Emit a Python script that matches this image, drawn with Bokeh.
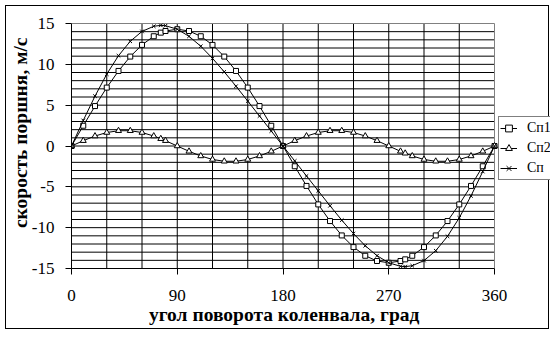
from bokeh.plotting import figure
from bokeh.models import FixedTicker, Legend, LegendItem
from bokeh.embed import file_html
from bokeh.resources import INLINE

angles = [0, 10, 20, 30, 40, 50, 60, 70, 76, 80, 90, 100, 110, 120, 130, 140, 150, 160, 170, 180,
          190, 200, 210, 220, 230, 240, 250, 260, 270, 280, 284, 290, 300, 310, 320, 330, 340, 350, 360]
sp1 = [0, 2.48, 4.89, 7.15, 9.19, 10.95, 12.38, 13.44, 13.88, 14.08, 14.30, 14.08, 13.44, 12.38, 10.95,
       9.19, 7.15, 4.89, 2.48, 0, -2.48, -4.89, -7.15, -9.19, -10.95, -12.38, -13.44, -14.08, -14.30,
       -14.08, -13.88, -13.44, -12.38, -10.95, -9.19, -7.15, -4.89, -2.48, 0]
sp2 = [0, 0.65, 1.22, 1.65, 1.87, 1.87, 1.65, 1.22, 0.89, 0.65, 0, -0.65, -1.22, -1.65, -1.87,
       -1.87, -1.65, -1.22, -0.65, 0, 0.65, 1.22, 1.65, 1.87, 1.87, 1.65, 1.22, 0.65, 0,
       -0.65, -0.89, -1.22, -1.65, -1.87, -1.87, -1.65, -1.22, -0.65, 0]
sp = [0, 3.13, 6.11, 8.80, 11.06, 12.82, 14.03, 14.66, 14.77, 14.73, 14.30, 13.43, 12.22, 10.73, 9.08,
      7.32, 5.50, 3.67, 1.83, 0, -1.83, -3.67, -5.50, -7.32, -9.08, -10.73, -12.22, -13.43, -14.30,
      -14.73, -14.77, -14.66, -14.03, -12.82, -11.06, -8.80, -6.11, -3.13, 0]
series_names = ["Сп1", "Сп2", "Сп"]
x_title = "угол поворота коленвала, град"
y_title = "скорость поршня, м/с"
x_ticks = [0, 90, 180, 270, 360]
y_ticks = [-15, -10, -5, 0, 5, 10, 15]
x_grid = [30, 60, 90, 120, 150, 180, 210, 240, 270, 300, 330]
y_grid = list(range(-14, 15))
X_MIN, X_MAX = 0, 360
Y_MIN, Y_MAX = -15, 15

FONT = "Liberation Serif"
NBSP = "\u00a0"

# canvas 544x324 placed at (6,6) inside a 1px page border; plot area 423x245 px
W, H = 544, 324
LEFT, TOP, BOTTOM = 65, 15, 62
frame_w = W - LEFT
frame_h = H - TOP - BOTTOM
px_per_x = 423 / (X_MAX - X_MIN)
px_per_y = 245 / (Y_MAX - Y_MIN)
x_end = X_MIN + frame_w / px_per_x
y_end = Y_MIN + frame_h / px_per_y

p = figure(width=W, height=H, x_range=(X_MIN, x_end), y_range=(Y_MIN, y_end),
           output_backend="svg", toolbar_location=None,
           min_border_left=LEFT, min_border_right=0, min_border_top=TOP, min_border_bottom=BOTTOM)
p.styles = {"margin": "5px", "border": "1px solid black"}
p.background_fill_color = "white"
p.border_fill_color = "white"
p.outline_line_color = None
p.xgrid.grid_line_color = None
p.ygrid.grid_line_color = None

# grid lines and plot-area border
p.segment(x0=[X_MIN] * len(y_grid), y0=y_grid, x1=[X_MAX] * len(y_grid), y1=y_grid,
          line_color="black", line_width=1)
p.segment(x0=x_grid, y0=[Y_MIN] * len(x_grid), x1=x_grid, y1=[Y_MAX] * len(x_grid),
          line_color="black", line_width=1)
p.segment(x0=[X_MIN, X_MAX], y0=[Y_MAX, Y_MIN], x1=[X_MAX, X_MAX], y1=[Y_MAX, Y_MAX],
          line_color="#808080", line_width=1)

p.xaxis.ticker = FixedTicker(ticks=x_ticks)
p.yaxis.ticker = FixedTicker(ticks=y_ticks)
p.xaxis.bounds = (X_MIN, X_MAX)
p.yaxis.bounds = (Y_MIN, Y_MAX)
p.yaxis.major_label_overrides = {t: str(t) for t in y_ticks}
for ax in (p.xaxis, p.yaxis):
    ax.axis_line_color = "black"
    ax.major_tick_line_color = "black"
    ax.major_tick_out = 6
    ax.major_tick_in = 0
    ax.minor_tick_line_color = None
    ax.major_label_text_font = FONT
    ax.major_label_text_font_size = "17px"
    ax.major_label_text_color = "black"
    ax.axis_label_text_font = FONT
    ax.axis_label_text_font_size = "19.5px"
    ax.axis_label_text_font_style = "bold"
    ax.axis_label_text_color = "black"
p.xaxis.major_label_standoff = 15
p.yaxis.major_label_standoff = 11
# non-breaking spaces shift the centred titles onto the plot area's centre
p.xaxis.axis_label = x_title + NBSP * 11
p.yaxis.axis_label = NBSP * 5 + y_title
p.xaxis.axis_label_standoff = 0
p.yaxis.axis_label_standoff = -2

l1 = p.line(angles, sp1, line_color="black", line_width=1)
m1 = p.scatter(angles, sp1, marker="square", size=5, fill_color="white", line_color="black", line_width=1)
l2 = p.line(angles, sp2, line_color="black", line_width=1)
m2 = p.scatter(angles, sp2, marker="triangle", size=6, fill_color="white", line_color="black", line_width=1)
l3 = p.line(angles, sp, line_color="black", line_width=1)
m3 = p.scatter(angles, sp, marker="x", size=5, line_color="black", line_width=1)

legend = Legend(items=[LegendItem(label=series_names[0], renderers=[l1, m1]),
                       LegendItem(label=series_names[1], renderers=[l2, m2]),
                       LegendItem(label=series_names[2], renderers=[l3, m3])],
                location=(427, 88), orientation="vertical")
legend.label_text_font = FONT
legend.label_text_font_size = "14px"
legend.label_text_color = "black"
legend.border_line_color = "black"
legend.border_line_width = 1
legend.background_fill_color = "white"
legend.background_fill_alpha = 1
legend.padding = 1
legend.margin = 0
legend.spacing = 0
legend.glyph_width = 17
legend.glyph_height = 20
legend.label_height = 20
legend.label_standoff = 10
p.add_layout(legend)

open("out.html", "w").write(file_html(p, INLINE))
